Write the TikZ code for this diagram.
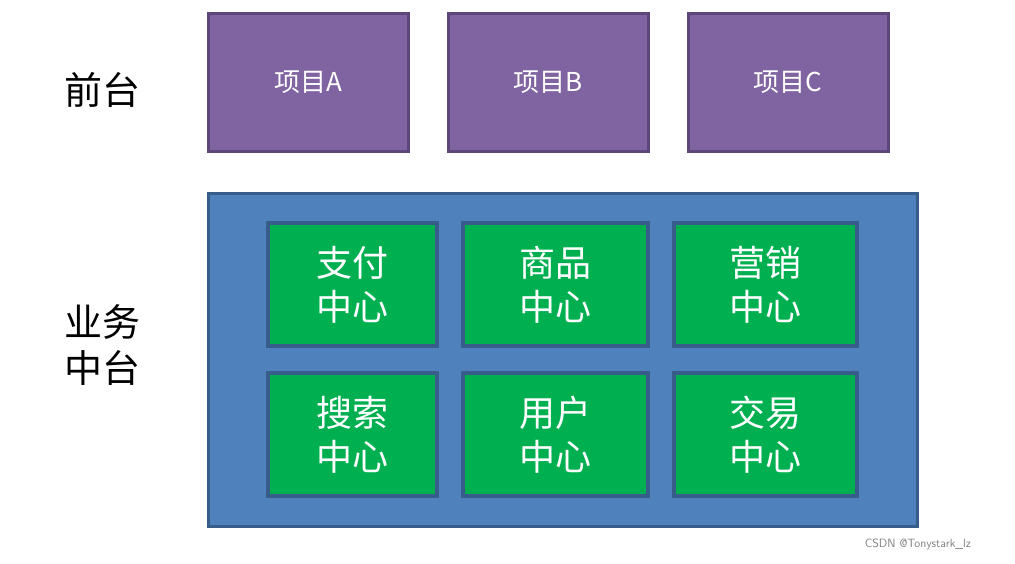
\documentclass[tikz,border=0pt]{standalone}
\usepackage{fontspec}
\setmainfont{Noto Sans CJK SC}
\begin{document}
\begin{tikzpicture}[x=1pt,y=-1pt,
  pbox/.style={draw=purple!40!black!60!violet!80, fill={rgb,255:red,128;green,100;blue,162}, line width=3pt},
  bbox/.style={draw={rgb,255:red,56;green,93;blue,138}, fill={rgb,255:red,79;green,129;blue,189}, line width=3pt},
  gbox/.style={draw={rgb,255:red,56;green,93;blue,138}, fill={rgb,255:red,0;green,176;blue,80}, line width=3.5pt},
  ptxt/.style={text=white, font=\fontsize{26}{30}\selectfont},
  gtxt/.style={text=white, font=\fontsize{36}{44}\selectfont, align=center},
  ltxt/.style={font=\fontsize{38}{46}\selectfont, align=center}]
\useasboundingbox (0,0) rectangle (1015,563);
\tikzset{pbox/.append style={draw={rgb,255:red,92;green,70;blue,122}}}
\foreach \n/\x/\t in {pa/208/项目A, pb/448/项目B, pc/688/项目C}{
  \draw[pbox] (\x,13) rectangle ++(200,138);
  \node[ptxt] (\n) at (\x+100,82) {\t};
}
\draw[bbox] (208,193) rectangle (917,526);
\foreach \n/\x/\w/\y/\t in {g1/268/169/223/支付\\中心, g2/463/185/223/商品\\中心, g3/674/183/223/营销\\中心,
  g4/268/169/373/搜索\\中心, g5/463/185/373/用户\\中心, g6/674/183/373/交易\\中心}{
  \draw[gbox] (\x,\y) rectangle ++(\w,123);
  \node[gtxt] (\n) at (\x+\w/2,\y+62) {\t};
}
\node[ltxt] (qt) at (102,90) {前台};
\node[ltxt] (zt) at (102,345) {业务\\中台};
\node[text=gray, font=\fontsize{12}{14}\selectfont\sffamily] (wm) at (918,544) {CSDN @Tonystark\_lz};
\end{tikzpicture}
\end{document}
